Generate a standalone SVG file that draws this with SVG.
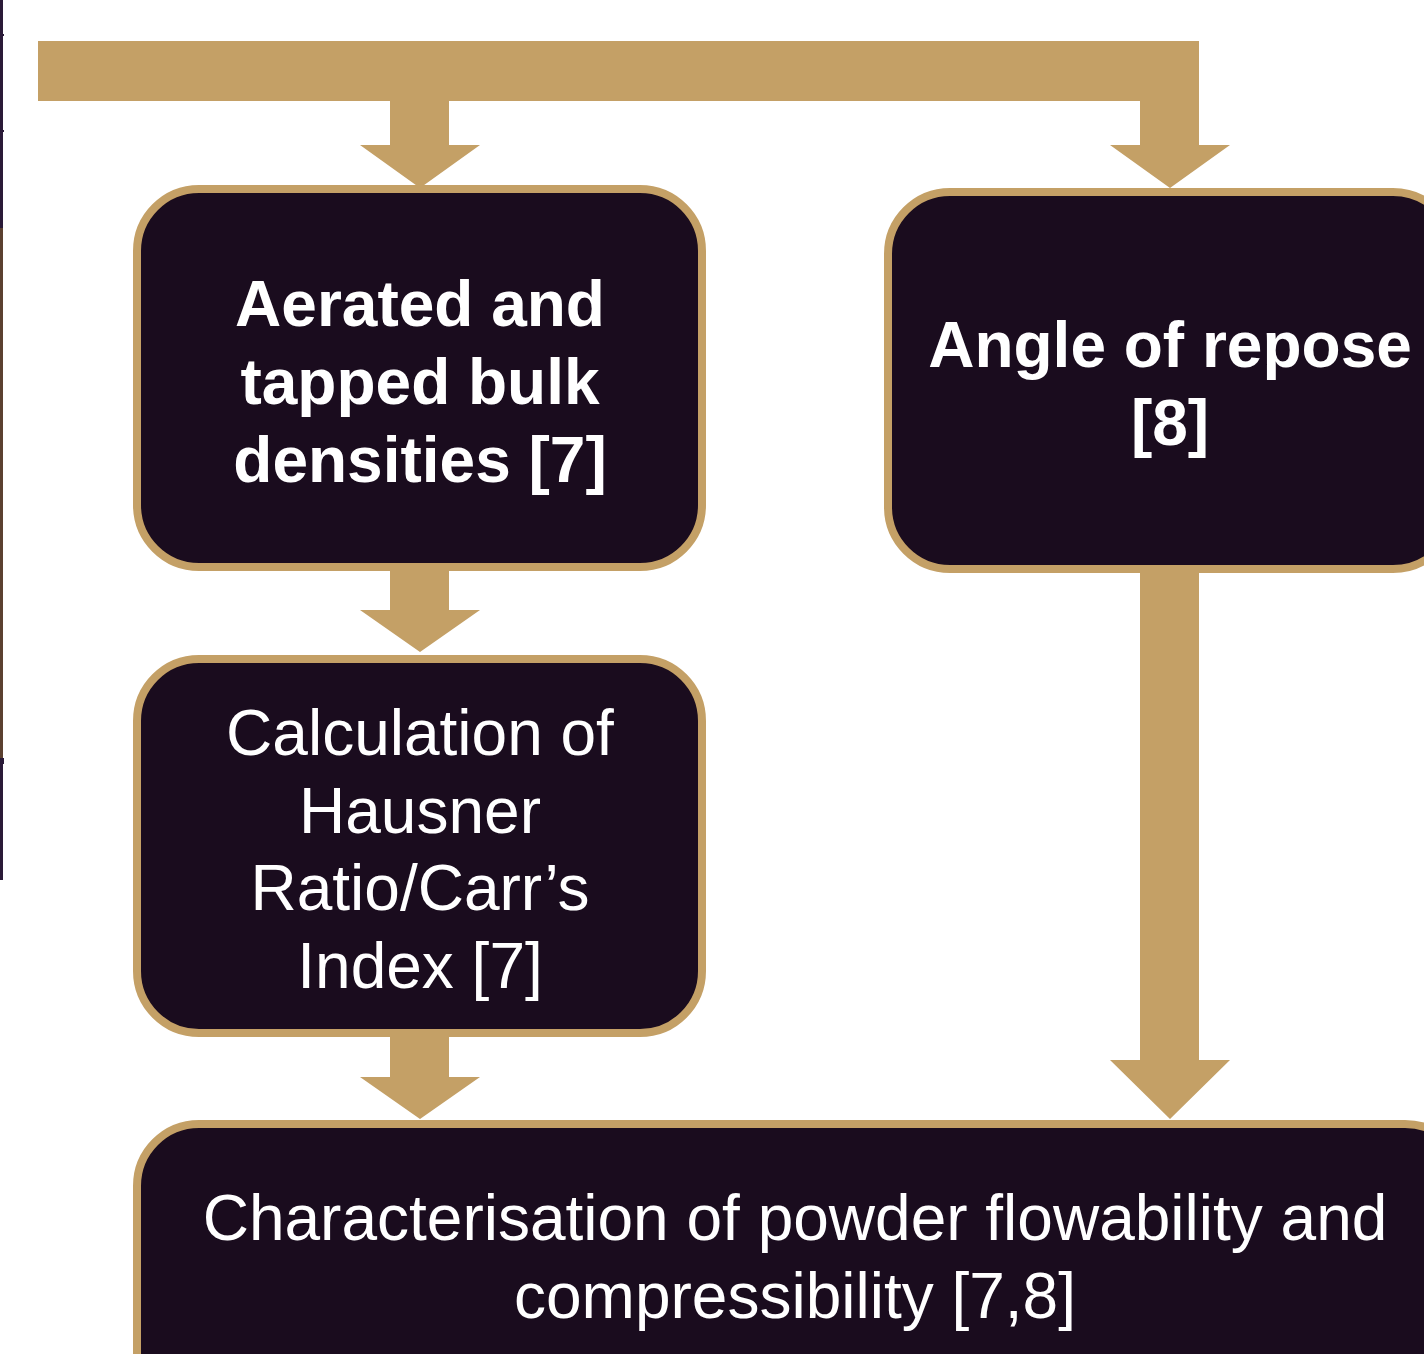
<svg xmlns="http://www.w3.org/2000/svg" width="1424" height="1354" viewBox="0 0 1424 1354">
<style>
.box{fill:#1a0c1e;stroke:#c4a066;stroke-width:8}
.arr{fill:#c4a066}
.t{font-family:"Liberation Sans",Arial,sans-serif;font-size:64px;fill:#ffffff;text-anchor:middle}
.b{font-weight:bold}
</style>
<rect x="0" y="0" width="1424" height="1354" fill="#ffffff"/>
<g id="edge">
<rect x="0" y="0" width="3" height="880" fill="#2a1a38"/>
<rect x="0" y="228" width="3" height="530" fill="#5b4030"/>
<rect x="0" y="34" width="4" height="2" fill="#2a1a38"/>
<rect x="0" y="130" width="4" height="2" fill="#2a1a38"/>
<rect x="0" y="758" width="4" height="6" fill="#2a1a38"/>
</g>
<g id="connectors">
<rect class="arr" x="38" y="41" width="1161" height="60"/>
<polygon class="arr" points="390,101 449,101 449,145 480,145 420,188 360,145 390,145"/>
<polygon class="arr" points="1140,101 1199,101 1199,145 1230,145 1170,188 1110,145 1140,145"/>
<polygon class="arr" points="390,571 449,571 449,610 480,610 420,652 360,610 390,610"/>
<polygon class="arr" points="390,1037 449,1037 449,1077 480,1077 420,1119 360,1077 390,1077"/>
<polygon class="arr" points="1140,573 1199,573 1199,1060 1230,1060 1170,1119 1110,1060 1140,1060"/>
</g>
<g id="node-aerated">
<rect class="box" x="137" y="189" width="565" height="378" rx="62"/>
<text class="t b" x="420" y="326">Aerated and</text>
<text class="t b" x="420" y="404">tapped bulk</text>
<text class="t b" x="420" y="482">densities [7]</text>
</g>
<g id="node-angle">
<rect class="box" x="888" y="192" width="567" height="377" rx="62"/>
<text class="t b" x="1170" y="367">Angle of repose</text>
<text class="t b" x="1170" y="445">[8]</text>
</g>
<g id="node-hausner">
<rect class="box" x="137" y="659" width="565" height="374" rx="62"/>
<text class="t" x="420" y="755">Calculation of</text>
<text class="t" x="420" y="833">Hausner</text>
<text class="t" x="420" y="910">Ratio/Carr’s</text>
<text class="t" x="420" y="988">Index [7]</text>
</g>
<g id="node-characterisation">
<rect class="box" x="137" y="1124" width="1330" height="300" rx="62"/>
<text class="t" x="795" y="1240">Characterisation of powder flowability and</text>
<text class="t" x="795" y="1318">compressibility [7,8]</text>
</g>
</svg>
